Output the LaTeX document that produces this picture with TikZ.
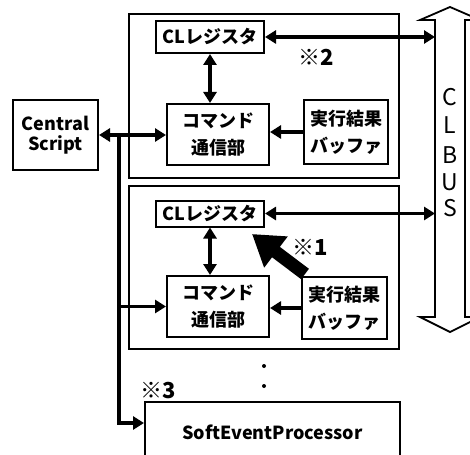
\documentclass[tikz,border=0pt]{standalone}
\usepackage{fontspec}
\setmainfont{Noto Sans CJK JP}
\usetikzlibrary{arrows.meta}

\begin{document}
\begin{tikzpicture}[x=1pt, y=-1pt, line width=2pt,
  box/.style={draw, align=center, inner sep=0pt, font=\fontsize{18}{23}\selectfont\bfseries},
  arr/.style={line width=3.4pt, -{Triangle[length=11pt,width=13pt]}},
  darr/.style={line width=3.4pt, {Triangle[length=11pt,width=13pt]}-{Triangle[length=11pt,width=13pt]}},
  note/.style={font=\fontsize{22}{22}\selectfont\bfseries, inner sep=0pt}]
\useasboundingbox (0,0) rectangle (470,454);
\clip (0,0) rectangle (470,454);

\node[box, minimum width=85pt, minimum height=70pt] (cs) at (55.5,135) {Central\\[-3pt]Script};

\node[draw, minimum width=270pt, minimum height=164pt] (frame1) at (264,96) {};
\node[box, minimum width=108pt, minimum height=32pt] (reg1) at (210,37) {CLレジスタ};
\node[box, minimum width=102pt, minimum height=61pt] (cmd1) at (218,134.5) {コマンド\\[4pt]通信部};
\node[box, minimum width=84pt, minimum height=64pt] (buf1) at (346,132) {実行結果\\[4pt]バッファ};

\node[draw, minimum width=270pt, minimum height=163pt] (frame2) at (264,267.5) {};
\node[box, minimum width=108pt, minimum height=26pt] (reg2) at (210,213.5) {CLレジスタ};
\node[box, minimum width=102pt, minimum height=61pt] (cmd2) at (218,306.5) {コマンド\\[4pt]通信部};
\node[box, minimum width=85pt, minimum height=62pt] (buf2) at (344.5,308) {実行結果\\[4pt]バッファ};

\node[box, minimum width=255pt, minimum height=60pt] (sep) at (272.5,432) {SoftEventProcessor};

\draw[line width=1.8pt] (450,7) -- (420,20) -- (435,20) -- (435,317) -- (420,317) -- (450,332)
  -- (480,317) -- (465,317) -- (465,20) -- (480,20) -- cycle;
\foreach \l/\y in {C/97,L/125,B/155,U/182,S/208}
  \node[font=\fontsize{23}{23}\selectfont] (bus\l) at (450,\y) {\l};
\coordinate (busL) at (435,0);

\draw[darr] (reg1.east) -- (reg1.east -| busL);
\draw[darr] (reg2.east) -- (reg2.east -| busL);
\draw[darr] (reg1.south) -- (reg1.south |- cmd1.north);
\draw[darr] (reg2.south) -- (reg2.south |- cmd2.north);
\draw[arr] (buf1.west) -- (cmd1.east |- buf1.west);
\draw[arr] (buf2.west) -- (cmd2.east |- buf2.west);

\draw[darr] (cs.east) -- (cmd1.west |- cs.east);
\coordinate (split) at (119,135);
\draw[arr] (split) |- ([yshift=9pt]sep.west);
\draw[arr] (split |- cmd2.west) -- (cmd2.west);

\coordinate (hit) at (252,234);
\draw[line width=13pt, -{Triangle[length=30pt,width=37pt]}] (305,274) -- (hit);

\node[note] (n1) at (310,247) {※1};
\node[note] (n2) at (316,57) {※2};
\node[note] (n3) at (158,391) {※3};

\fill (264,366) circle (2pt);
\fill (264,386) circle (2pt);
\end{tikzpicture}
\end{document}
